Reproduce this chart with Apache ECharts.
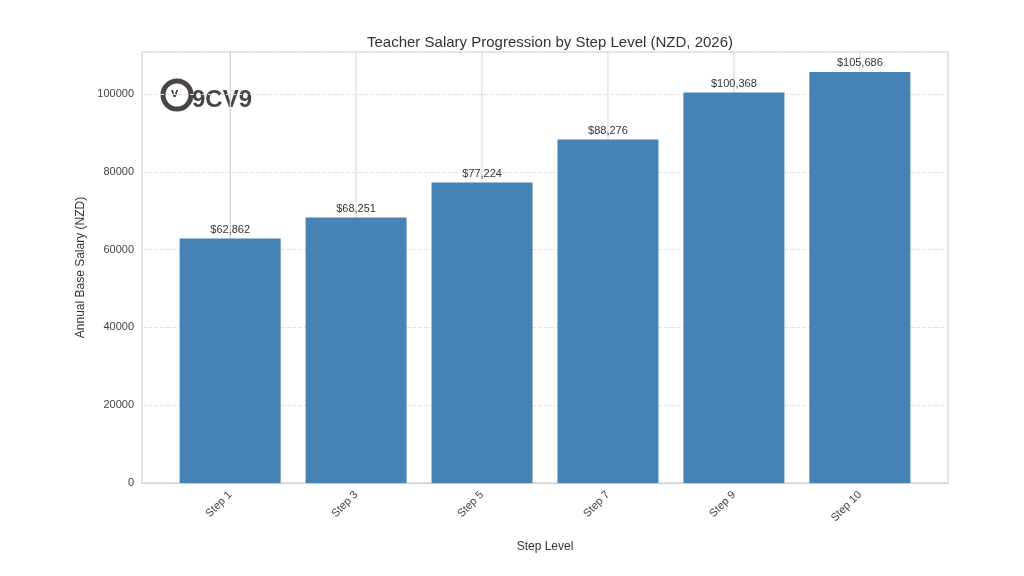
<!DOCTYPE html>
<html><head><meta charset="utf-8">
<script src="https://cdn.jsdelivr.net/npm/echarts@6/dist/echarts.min.js"></script>
<style>html,body{margin:0;background:#fff}#c{width:1024px;height:576px}</style>
</head><body><div id="c"></div>
<script>
const steps = ['Step 1', 'Step 3', 'Step 5', 'Step 7', 'Step 9', 'Step 10'];
const salaries = [62862, 68251, 77224, 88276, 100368, 105686];
const yTicks = [0, 20000, 40000, 60000, 80000, 100000];

const font = 'Liberation Sans, Arial, sans-serif';
const chart = echarts.init(document.getElementById('c'));
chart.setOption({
  animation: false,
  title: { text: 'Teacher Salary Progression by Step Level (NZD, 2026)', left: 545, top: 30, textAlign: 'center',
    textStyle: { fontFamily: font, fontSize: 15, fontWeight: 'normal', color: '#333' } },
  grid: { left: 142, right: 76, top: 52, bottom: 93, show: true, borderColor: '#ccc', borderWidth: 1 },
  xAxis: {
    type: 'value', min: -0.7, max: 5.7,
    name: 'Step Level', nameLocation: 'middle', nameGap: 58,
    nameTextStyle: { fontFamily: font, fontSize: 12, color: '#333' },
    axisLine: { show: true, lineStyle: { color: '#ccc' } },
    axisTick: { show: false },
    splitLine: { show: false },
    axisLabel: { customValues: [0, 1, 2, 3, 4, 5], rotate: 45, margin: 10, fontFamily: font, fontSize: 11, color: '#444',
      formatter: v => steps[Math.round(v)] }
  },
  yAxis: {
    type: 'value', min: 0, max: 110800, interval: 20000,
    name: 'Annual Base Salary (NZD)', nameLocation: 'middle', nameGap: 55,
    nameTextStyle: { fontFamily: font, fontSize: 12, color: '#333' },
    axisLine: { show: true, lineStyle: { color: '#ccc' } },
    axisTick: { show: false },
    splitLine: { lineStyle: { color: '#e2e2e2', type: 'dashed' } },
    axisLabel: { customValues: yTicks, fontFamily: font, fontSize: 11, color: '#444', formatter: v => String(v) }
  },
  graphic: [
    { type: 'circle', shape: { cx: 177, cy: 95, r: 14 }, style: { fill: 'none', stroke: '#4a4444', lineWidth: 5 } },
    { type: 'text', left: 171, top: 87, style: { text: 'v', font: 'bold 13px ' + font, fill: '#4a4444' } },
    { type: 'text', left: 192, top: 88, style: { text: '9CV9', font: 'bold 24px ' + font, fill: '#4a4444' } }
  ],
  series: [
    { type: 'custom', z: 1, silent: true, data: steps.map((s, i) => [i]),
      renderItem: (params, api) => {
        const x = api.coord([api.value(0), 0])[0];
        const cs = params.coordSys;
        return { type: 'line', shape: { x1: x, y1: cs.y, x2: x, y2: cs.y + cs.height },
          style: { stroke: '#d6d6d6', lineWidth: 1 } };
      } },
    { type: 'bar', z: 3, barWidth: 101, itemStyle: { color: '#4682b4' },
      data: salaries.map((v, i) => [i, v]),
      label: { show: true, position: 'top', distance: 3, fontFamily: font, fontSize: 11, color: '#333',
        formatter: p => '$' + p.value[1].toLocaleString('en-US') } }
  ]
});
</script></body></html>
